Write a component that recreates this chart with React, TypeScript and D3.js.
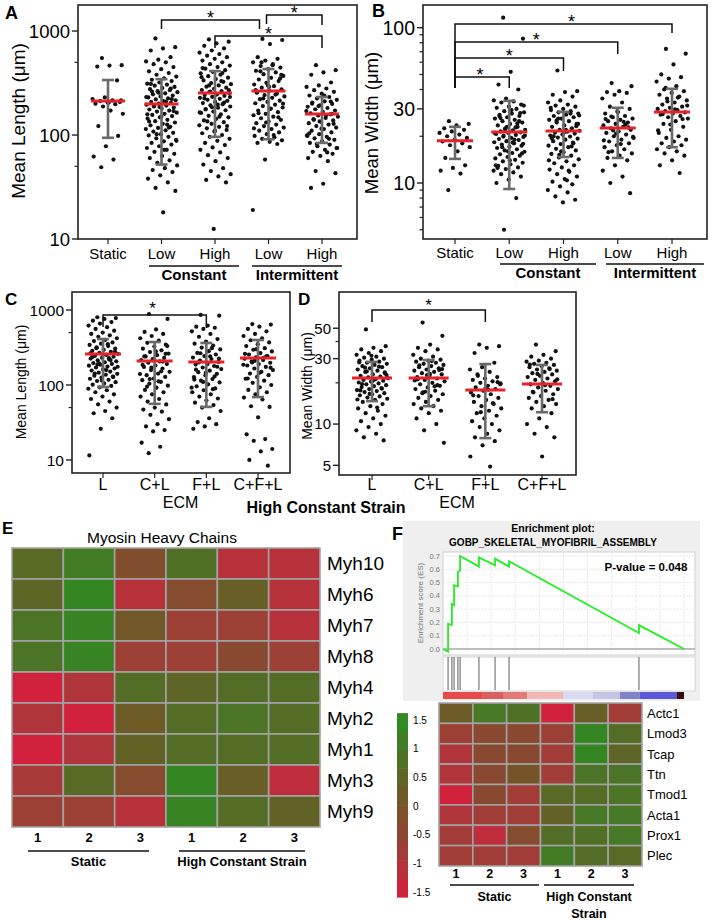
import React from 'react';
import * as d3 from 'd3';

const FONT = '"Liberation Sans", Arial, Helvetica, sans-serif';
const DOT = '#111';
const MEDIAN_RED = '#e8212b';
const BAR_GREY = '#6a6a6a';

// ---------- A / B : strain regimes ----------
const STRAIN_CATS = ['static', 'constLow', 'constHigh', 'intLow', 'intHigh'];
const STRAIN_TICKS = ['Static', 'Low', 'High', 'Low', 'High'];

const A_STATIC = [550, 470, 465, 455, 335, 230, 222, 215, 212, 208, 205, 200, 198, 188, 160, 172, 122, 98, 78, 62, 58, 49, 215, 205];
const A_CONST_LOW = [
  850, 700, 680, 650, 560, 530, 510, 500, 480, 450, 430, 410, 395, 380, 365, 350, 340, 330, 320, 312,
  305, 298, 290, 283, 276, 270, 264, 258, 252, 246, 240, 235, 230, 225, 220, 216, 212, 208, 204, 200,
  196, 192, 188, 184, 180, 176, 172, 168, 164, 160, 156, 152, 148, 144, 140, 136, 132, 128, 124, 120,
  117, 114, 111, 108, 105, 102, 99, 96, 93, 90, 87, 84, 81, 78, 75, 72, 69, 66, 63, 60,
  57, 54, 51, 48, 46, 44, 41, 38, 35, 31, 29, 18, 310, 280, 255, 232, 210, 190, 170, 150,
  135, 118, 102, 88, 72, 262, 222, 186, 158, 126,
];
const A_CONST_HIGH = [
  830, 790, 760, 720, 680, 650, 620, 600, 580, 560, 540, 520, 500, 480, 465, 450, 435, 420, 405, 392,
  380, 368, 356, 345, 335, 325, 316, 308, 300, 292, 285, 278, 271, 265, 259, 253, 248, 243, 238, 233,
  228, 223, 218, 213, 208, 203, 198, 193, 188, 183, 178, 173, 168, 163, 158, 153, 148, 143, 138, 133,
  128, 124, 120, 116, 112, 108, 104, 100, 96, 92, 88, 84, 80, 76, 72, 68, 64, 60, 56, 52,
  48, 45, 42, 40, 37, 35, 12.5, 360, 330, 300, 270, 245, 225, 205, 185, 165, 150, 135, 122, 110,
  440, 395, 262, 232, 196, 176,
];
const A_INT_LOW = [
  840, 820, 750, 560, 540, 520, 500, 480, 460, 445, 430, 415, 400, 385, 370, 355, 342, 330, 318, 306,
  295, 285, 275, 266, 258, 250, 242, 235, 228, 221, 214, 208, 202, 196, 190, 184, 178, 172, 166, 160,
  155, 150, 145, 140, 135, 130, 126, 122, 118, 114, 110, 106, 102, 98, 95, 92, 89, 86, 84, 82,
  58, 19, 470, 410, 350, 300, 270, 245, 225, 200, 180, 162, 148, 132, 116, 100, 500, 380, 290, 255,
];
const A_INT_HIGH = [
  470, 420, 400, 380, 320, 300, 290, 280, 270, 260, 250, 240, 232, 225, 218, 211, 205, 199, 193, 187,
  182, 177, 172, 167, 162, 158, 154, 150, 146, 142, 138, 134, 130, 126, 122, 118, 114, 110, 106, 102,
  99, 96, 93, 90, 87, 84, 81, 78, 75, 72, 69, 66, 63, 60, 56, 45, 43, 34, 31, 210,
  190, 170, 155, 140, 128, 115, 104, 92, 82, 75, 240, 200, 160, 135, 98, 68,
];
const A_MEDIAN = [212, 199, 253, 265, 159];
const A_LOW = [94, 52, 96, 91, 84];
const A_HIGH = [338, 345, 412, 431, 232];

const B_STATIC = [25, 24, 23.5, 22.5, 22, 21.5, 21, 20.5, 20, 19.5, 19, 18.5, 18, 17.5, 17, 16, 14.5, 13, 12.5, 12, 11.5, 9];
const B_CONST_LOW = [
  116, 85, 52, 43, 40, 35, 34, 33.5, 33, 32, 31, 30.5, 30, 29, 28.5, 28, 27.5, 27, 26.5, 26,
  25.5, 25, 24.5, 24, 23.5, 23, 22.5, 22, 21.8, 21.5, 21.2, 21, 20.7, 20.4, 20.1, 19.8, 19.5, 19.2, 18.9, 18.6,
  18.3, 18, 17.7, 17.4, 17.1, 16.8, 16.5, 16.2, 15.9, 15.6, 15.3, 15, 14.7, 14.4, 14.1, 13.8, 13.5, 13.2, 12.9, 12.6,
  12.3, 12, 11.7, 11.4, 11, 10.5, 10, 8, 5, 31.5, 29.5, 27, 25, 23, 21, 19, 17, 15.5, 14, 12.5,
  24.2, 22.2, 20.2, 18.2, 26.2, 28.2, 16, 13, 22.8, 19.9, 17.9,
];
const B_CONST_HIGH = [
  53, 39, 38.5, 37, 36, 34, 33, 32, 31.5, 31, 30, 29.5, 29, 28.5, 28, 27.5, 27, 26.5, 26, 25.5,
  25, 24.5, 24, 23.5, 23, 22.5, 22, 21.7, 21.4, 21.1, 20.8, 20.5, 20.2, 19.9, 19.6, 19.3, 19, 18.6, 18.2, 17.8,
  17.4, 17, 16.6, 16.2, 15.8, 15.4, 15, 14.6, 14.2, 13.8, 13.4, 13, 12.6, 12.2, 11.8, 11.4, 11, 10.6, 10.2, 9.8,
  9.5, 9, 8.7, 8.2, 7.8, 7.5, 30.5, 28, 26, 24, 22, 20, 18, 16, 14, 12, 25.2, 23.2, 21.2, 19.4,
  17.2, 15.2, 27.2, 10.4,
];
const B_INT_LOW = [
  44, 42, 39, 38.5, 38, 37, 35, 33, 31, 30, 29, 28, 27, 26.5, 26, 25.5, 25, 24.5, 24, 23.5,
  23, 22.5, 22, 21.5, 21, 20.5, 20, 19.5, 19, 18.5, 18, 17.5, 17, 16.5, 16, 15.5, 15, 14.5, 14, 13,
  12, 11, 10, 8.6, 28.5, 25.8, 23.8, 21.8, 19.8, 17.8, 15.8, 22.8, 20.8, 18.8, 24.8, 26.8,
];
const B_INT_HIGH = [
  73, 68, 58, 50, 48, 47, 45, 42, 40, 39, 38, 37, 36, 35, 34, 33, 32, 31, 30.5, 30,
  29.5, 29, 28.5, 28, 27.5, 27, 26.5, 26, 25, 24, 23, 22, 21, 20, 19.5, 19, 18.5, 18, 17.5, 17,
  16.5, 16, 15.5, 15, 14, 13, 11.6, 33.5, 31.5, 29.8, 27.8, 25.8, 23.8, 21.8, 35.5, 41,
];
const B_MEDIAN = [18.7, 21.3, 21.6, 22.6, 28.7];
const B_LOW = [14.3, 9.15, 14.7, 14.5, 17];
const B_HIGH = [23, 33.8, 28.7, 30.5, 40.4];

// ---------- C / D : ECM under high constant strain ----------
const ECM_CATS = ['L', 'C+L', 'F+L', 'C+F+L'];

const C_L = [
  800, 780, 760, 720, 690, 660, 620, 590, 560, 530, 500, 480, 460, 440, 420, 400, 385, 370, 355, 342,
  330, 318, 306, 295, 285, 276, 268, 260, 252, 245, 238, 231, 225, 219, 213, 207, 201, 196, 191, 186,
  181, 176, 171, 166, 161, 156, 151, 146, 141, 137, 133, 129, 125, 121, 117, 113, 109, 105, 101, 97,
  93, 89, 85, 80, 75, 70, 65, 60, 55, 50, 45, 42, 36, 26, 11.5, 350, 310, 280, 255, 235,
  215, 195, 175, 158, 142, 128, 115, 265, 228, 188,
];
const C_CL = [
  880, 760, 550, 510, 480, 450, 420, 390, 365, 345, 325, 305, 290, 275, 262, 250, 240, 230, 222, 214,
  206, 198, 190, 182, 174, 166, 158, 150, 142, 135, 128, 122, 116, 110, 104, 98, 92, 86, 80, 75,
  70, 65, 60, 55, 50, 47, 44, 40, 35, 30, 28, 25, 24, 17, 15, 12.3, 330, 280, 240, 205,
  170, 140, 112, 95, 260, 218, 185, 152, 120,
];
const C_FL = [
  860, 840, 620, 600, 580, 560, 520, 480, 440, 410, 380, 355, 335, 315, 298, 282, 268, 255, 243, 232,
  222, 212, 203, 195, 187, 179, 171, 163, 155, 148, 141, 134, 127, 120, 114, 108, 102, 96, 90, 85,
  80, 75, 70, 66, 62, 58, 54, 50, 45, 36, 32, 30, 28, 26, 310, 265, 225, 190, 160, 130,
  110, 92, 240, 200, 175, 145, 118, 88,
];
const C_CFL = [
  650, 640, 600, 560, 520, 480, 450, 420, 395, 370, 350, 330, 310, 295, 280, 266, 254, 243, 233, 224,
  215, 206, 198, 190, 182, 174, 166, 158, 150, 142, 135, 128, 121, 114, 107, 100, 93, 86, 80, 75,
  68, 64, 52, 51, 37, 22, 19, 18, 14, 13, 10, 8.4, 300, 260, 230, 200, 170, 145, 122, 240,
  210, 186,
];
const C_MEDIAN = [259, 209, 203, 229];
const C_LOW = [94, 56, 51, 69];
const C_HIGH = [410, 374, 363, 398];

const D_L = [
  49, 37, 36, 35, 34, 33, 32, 31, 30.5, 30, 29.5, 29, 28.5, 28, 27.5, 27, 26.5, 26, 25.5, 25,
  24.5, 24, 23.5, 23, 22.5, 22.2, 21.9, 21.6, 21.3, 21, 20.7, 20.4, 20.1, 19.8, 19.5, 19.2, 18.9, 18.6, 18.3, 18,
  17.7, 17.4, 17.1, 16.8, 16.5, 16.2, 15.9, 15.6, 15.3, 15, 14.5, 14, 13.5, 13, 12.5, 12, 11.5, 11, 10.5, 10,
  9.5, 9, 8.5, 8, 7.6, 31.5, 28.2, 26.2, 24.2, 22.8, 21.1, 19.6, 18.1, 16.6, 15.1, 13.2, 25.8, 23.8, 20.6, 17.6,
];
const D_CL = [
  55, 44, 38, 36, 35, 34, 32, 31, 30, 29.5, 29, 28.5, 28, 27.5, 27, 26.5, 26, 25.5, 25, 24.5,
  24, 23.5, 23, 22.5, 22, 21.5, 21, 20.5, 20, 19.5, 19, 18.5, 18, 17.5, 17, 16.5, 16, 15.5, 15, 14.5,
  14, 13.5, 13, 12.5, 12, 11, 10, 9, 7.3, 28.8, 26.8, 24.8, 22.8, 20.8, 18.8, 16.8, 25.2, 23.2, 21.2, 19.2,
  17.2,
];
const D_FL = [
  38, 37, 36, 33, 28, 26, 25, 24, 23, 22, 21.5, 21, 20.5, 20, 19.5, 19, 18.5, 18, 17.5, 17,
  16.5, 16, 15.5, 15, 14.5, 14, 13.5, 13, 12.5, 12, 11.5, 11, 10.5, 10, 9.5, 9, 8.5, 8, 7.5, 7,
  5.8, 4.9, 22.5, 20.2, 18.2, 16.2, 14.2, 12.2, 19.8, 17.8,
];
const D_CFL = [
  38, 34, 32, 31, 30, 29, 28.5, 28, 27.5, 27, 26.5, 26, 25.5, 25, 24.5, 24, 23.5, 23, 22.5, 22,
  21.5, 21, 20.5, 20, 19.5, 19, 18.5, 18, 17.5, 17, 16.5, 16, 15.5, 15, 14.5, 14, 13.5, 13, 12, 11,
  10, 9.5, 8.5, 8, 5.8, 27.2, 25.2, 23.2, 21.2, 19.2, 17.2, 15.2,
];
const D_MEDIAN = [21.7, 21.7, 17.7, 19.6];
const D_LOW = [14.7, 13.5, 7.9, 12.2];
const D_HIGH = [28.4, 29.3, 27.4, 27];

// ---------- E / F : heatmaps ----------
const SAMPLES = ['s1', 's2', 's3', 'h1', 'h2', 'h3'];
const SAMPLE_LABELS = ['1', '2', '3', '1', '2', '3'];

const E_GENES = ['Myh10', 'Myh6', 'Myh7', 'Myh8', 'Myh4', 'Myh2', 'Myh1', 'Myh3', 'Myh9'];
const E_VALUES = [
  [0.6, 1.1, -0.2, 0.8, -1.1, -1.1],
  [0.5, 1.4, -1.1, -0.3, 0.3, -1.1],
  [0.9, 1.3, 0.1, -0.7, -0.7, -1.1],
  [0.9, 1.3, -0.7, -0.7, -0.4, -0.7],
  [-1.5, -1.0, 0.7, 0.5, 0.7, 0.7],
  [-1.0, -1.5, 0.2, 0.7, 0.9, 0.7],
  [-1.5, -1.0, 0.4, 0.7, 0.7, 0.7],
  [-0.9, 0.6, -0.3, 1.4, 0.3, -1.2],
  [-0.7, -0.7, -1.1, 1.3, 0.7, 0.4],
];

const F_GENES = ['Actc1', 'Lmod3', 'Tcap', 'Ttn', 'Tmod1', 'Acta1', 'Prox1', 'Plec'];
const F_VALUES = [
  [0.2, 1.0, 0.8, -1.5, 0.3, -0.8],
  [-0.7, -0.4, -0.4, -0.7, 1.4, 0.7],
  [-1.0, -0.4, -0.4, -0.8, 1.4, 0.5],
  [-1.0, -0.4, 0.0, -0.8, 0.9, 0.9],
  [-1.5, -0.4, -0.8, 0.6, 0.7, 0.9],
  [-1.0, -0.8, -0.8, 0.4, 1.0, 1.0],
  [-0.8, -1.2, -0.3, 0.7, 0.8, 1.0],
  [-0.8, -0.8, -0.8, 1.1, 0.7, 0.6],
];
const COLORBAR_TICKS = [1.5, 1, 0.5, 0, -0.5, -1, -1.5];

// enrichment plot: running score vertices and hit ranks (out of 1000)
const ES_RANK = [0, 21, 21, 37, 37, 46, 46, 62, 62, 71, 71, 149, 149, 216, 216, 274, 274, 813, 813, 1000];
const ES_VAL = [0, -0.02, 0.19, 0.18, 0.34, 0.33, 0.48, 0.47, 0.58, 0.59, 0.7, 0.62, 0.69, 0.63, 0.68, 0.62, 0.66, 0.12, 0.18, 0];
const HIT_RANKS = [21, 37, 46, 62, 71, 149, 216, 274, 813];
const ES_TICKS = [0, 0.1, 0.2, 0.3, 0.4, 0.5, 0.6, 0.7];
const RANK_SEG_END = [162, 249, 349, 498, 622, 734, 817, 971, 1000];
const RANK_SEG_COLOR = ['#e84a4a', '#d86060', '#e27a78', '#f2b8b4', '#dadaf2', '#c4c4e4', '#8282c8', '#5a5ad8', '#3a0a0a'];

const heatColor = d3
  .scaleLinear<string>()
  .domain([-1.5, -1, -0.5, 0, 0.5, 1, 1.5])
  .range(['#d2213d', '#b0353a', '#8e4632', '#775428', '#5e6526', '#467826', '#2f8a22'])
  .clamp(true);

const jitter = (i: number) => ((i * 0.6180339887 + 0.31) % 1) - 0.5;

type Cfg = {
  x0: number; x1: number; y0: number; y1: number;
  domain: [number, number];
  cats: string[];
  catRange: [number, number];
  groups: number[][];
  med: number[]; lo: number[]; hi: number[];
  major: number[]; minor: number[];
  spread: number; half: number; tickFont: number;
};

const scalesFor = (c: Cfg) => ({
  x: d3.scalePoint<string>().domain(c.cats).range(c.catRange),
  y: d3.scaleLog().domain(c.domain).range([c.y1, c.y0]),
});

function ScatterPanel({ c }: { c: Cfg }) {
  const { x, y } = scalesFor(c);
  return (
    <g>
      {c.groups.map((vals, gi) =>
        vals.map((v, i) => (
          <circle key={`p${gi}-${i}`} cx={x(c.cats[gi])! + jitter(i) * c.spread * 2} cy={y(v)} r={2.1} fill={DOT} />
        ))
      )}
      {c.cats.map((k, gi) => {
        const cx = x(k)!;
        return (
          <g key={`e${k}`} stroke={BAR_GREY} strokeWidth={2.6}>
            <line x1={cx} x2={cx} y1={y(c.lo[gi])} y2={y(c.hi[gi])} />
            <line x1={cx - 6} x2={cx + 6} y1={y(c.lo[gi])} y2={y(c.lo[gi])} />
            <line x1={cx - 6} x2={cx + 6} y1={y(c.hi[gi])} y2={y(c.hi[gi])} />
          </g>
        );
      })}
      {c.cats.map((k, gi) => (
        <line key={`m${k}`} x1={x(k)! - c.half} x2={x(k)! + c.half} y1={y(c.med[gi])} y2={y(c.med[gi])} stroke={MEDIAN_RED} strokeWidth={3} />
      ))}
      <rect x={c.x0} y={c.y0} width={c.x1 - c.x0} height={c.y1 - c.y0} fill="none" stroke="#222" strokeWidth={1.6} />
      {c.major.map((t) => (
        <g key={`t${t}`}>
          <line x1={c.x0 - 6} x2={c.x0} y1={y(t)} y2={y(t)} stroke="#222" strokeWidth={1.4} />
          <text x={c.x0 - 8} y={y(t)} dy="0.36em" textAnchor="end" fontSize={c.tickFont}>{String(t)}</text>
        </g>
      ))}
      {c.minor.map((t) => (
        <line key={`n${t}`} x1={c.x0 - 3.5} x2={c.x0} y1={y(t)} y2={y(t)} stroke="#222" strokeWidth={1.2} />
      ))}
      {c.cats.map((k) => (
        <line key={`xt${k}`} x1={x(k)!} x2={x(k)!} y1={c.y1} y2={c.y1 + 5} stroke="#222" strokeWidth={1.2} />
      ))}
    </g>
  );
}

type Bracket = { a: string; b: string; y: number; dl: number; dr: number; oa?: number; ob?: number; sx?: number; sy?: number };

function Brackets({ c, list, size }: { c: Cfg; list: Bracket[]; size: number }) {
  const { x } = scalesFor(c);
  return (
    <g>
      {list.map((br, i) => {
        const xa = x(br.a)! + (br.oa ?? 0);
        const xb = x(br.b)! + (br.ob ?? 0);
        return (
          <g key={i}>
            <path d={`M${xa},${br.dl}V${br.y}H${xb}V${br.dr}`} fill="none" stroke="#111" strokeWidth={1.5} />
            <text x={(xa + xb) / 2 + (br.sx ?? 0)} y={br.y + (br.sy ?? 3.5)} textAnchor="middle" fontSize={size}>*</text>
          </g>
        );
      })}
    </g>
  );
}

const A_CFG: Cfg = {
  x0: 78, x1: 357, y0: 5, y1: 239, domain: [10, 1780], cats: STRAIN_CATS, catRange: [108, 322],
  groups: [A_STATIC, A_CONST_LOW, A_CONST_HIGH, A_INT_LOW, A_INT_HIGH],
  med: A_MEDIAN, lo: A_LOW, hi: A_HIGH, major: [10, 100, 1000], minor: [50, 500],
  spread: 16, half: 17, tickFont: 18.5,
};
const B_CFG: Cfg = {
  x0: 423, x1: 707, y0: 5, y1: 239, domain: [4.36, 140], cats: STRAIN_CATS, catRange: [455, 672],
  groups: [B_STATIC, B_CONST_LOW, B_CONST_HIGH, B_INT_LOW, B_INT_HIGH],
  med: B_MEDIAN, lo: B_LOW, hi: B_HIGH, major: [10, 30, 100], minor: [5, 6, 7, 8, 9, 20, 40, 50, 60, 70, 80, 90],
  spread: 16, half: 18, tickFont: 19.5,
};
const C_CFG: Cfg = {
  x0: 72, x1: 290, y0: 292, y1: 473, domain: [6.7, 1738], cats: ECM_CATS, catRange: [103, 258],
  groups: [C_L, C_CL, C_FL, C_CFL], med: C_MEDIAN, lo: C_LOW, hi: C_HIGH,
  major: [10, 100, 1000], minor: [50, 500], spread: 15, half: 18, tickFont: 15.5,
};
const D_CFG: Cfg = {
  x0: 339, x1: 576, y0: 292, y1: 475, domain: [4.25, 91.9], cats: ECM_CATS, catRange: [372, 542],
  groups: [D_L, D_CL, D_FL, D_CFL], med: D_MEDIAN, lo: D_LOW, hi: D_HIGH,
  major: [5, 10, 30, 50], minor: [20, 40], spread: 16, half: 20, tickFont: 15,
};

function StrainAxisLabels({ c, tickY, lineY, groupY, groups }: { c: Cfg; tickY: number; lineY: number; groupY: number; groups: { label: string; x0: number; x1: number }[] }) {
  const { x } = scalesFor(c);
  return (
    <g>
      {c.cats.map((k, i) => (
        <text key={k} x={x(k)!} y={tickY} textAnchor="middle" fontSize={15}>{STRAIN_TICKS[i]}</text>
      ))}
      {groups.map((g) => (
        <g key={g.label}>
          <line x1={g.x0} x2={g.x1} y1={lineY} y2={lineY} stroke="#111" strokeWidth={1.4} />
          <text x={(g.x0 + g.x1) / 2} y={groupY} textAnchor="middle" fontSize={15} fontWeight="bold">{g.label}</text>
        </g>
      ))}
    </g>
  );
}

function EcmAxisLabels({ c }: { c: Cfg }) {
  const { x } = scalesFor(c);
  const mid = (c.catRange[0] + c.catRange[1]) / 2;
  return (
    <g>
      {c.cats.map((k) => (
        <text key={k} x={x(k)!} y={490} textAnchor="middle" fontSize={16}>{k}</text>
      ))}
      <text x={mid} y={508} textAnchor="middle" fontSize={16}>ECM</text>
    </g>
  );
}

function Heatmap({ genes, values, x0, x1, y0, y1, labelX, labelSize }: { genes: string[]; values: number[][]; x0: number; x1: number; y0: number; y1: number; labelX: number; labelSize: number }) {
  const bx = d3.scaleBand<string>().domain(SAMPLES).range([x0, x1]);
  const by = d3.scaleBand<string>().domain(genes).range([y0, y1]);
  return (
    <g>
      {genes.map((g, r) =>
        SAMPLES.map((s, ci) => (
          <rect key={`${g}${s}`} x={bx(s)} y={by(g)} width={bx.bandwidth()} height={by.bandwidth()} fill={heatColor(values[r][ci])} stroke="#a3a3a3" strokeWidth={1.6} />
        ))
      )}
      {genes.map((g) => (
        <text key={g} x={labelX} y={by(g)! + by.bandwidth() / 2} dy="0.36em" fontSize={labelSize}>{g}</text>
      ))}
    </g>
  );
}

function SampleLabels({ x0, x1, numY, lineY, groupY, lines, size, hcsTwoLine }: { x0: number; x1: number; numY: number; lineY: number; groupY: number; lines: [number, number][]; size: number; hcsTwoLine?: boolean }) {
  const bx = d3.scaleBand<string>().domain(SAMPLES).range([x0, x1]);
  return (
    <g fontWeight="bold" fontSize={size} textAnchor="middle">
      {SAMPLES.map((s, i) => (
        <text key={s} x={bx(s)! + bx.bandwidth() / 2} y={numY}>{SAMPLE_LABELS[i]}</text>
      ))}
      {lines.map(([a, b], i) => (
        <line key={i} x1={a} x2={b} y1={lineY} y2={lineY} stroke="#111" strokeWidth={1.4} />
      ))}
      <text x={(lines[0][0] + lines[0][1]) / 2} y={groupY}>Static</text>
      {hcsTwoLine ? (
        <>
          <text x={(lines[1][0] + lines[1][1]) / 2} y={groupY}>High Constant</text>
          <text x={(lines[1][0] + lines[1][1]) / 2} y={groupY + 17}>Strain</text>
        </>
      ) : (
        <text x={(lines[1][0] + lines[1][1]) / 2} y={groupY}>High Constant Strain</text>
      )}
    </g>
  );
}

function Enrichment() {
  const esX = d3.scaleLinear().domain([0, 1000]).range([443, 684]);
  const esY = d3.scaleLinear().domain([0, 0.7]).range([649, 556]);
  const line = d3.line<number>().x((_, i) => esX(ES_RANK[i])).y((d) => esY(d));
  const gridX = esX.ticks(10);
  return (
    <g>
      <rect x={403} y={521} width={297} height={180} fill="#efefef" />
      <text x={553} y={532} textAnchor="middle" fontSize={10.5} fontWeight="bold">Enrichment plot:</text>
      <text x={553} y={546} textAnchor="middle" fontSize={10} fontWeight="bold">GOBP_SKELETAL_MYOFIBRIL_ASSEMBLY</text>
      <rect x={443} y={552} width={252} height={103} fill="#fff" stroke="#cfcfcf" />
      {gridX.map((t) => (
        <line key={`gx${t}`} x1={esX(t)} x2={esX(t)} y1={552} y2={655} stroke="#e2e2e2" strokeDasharray="1.5 1.5" />
      ))}
      {ES_TICKS.map((t) => (
        <g key={`es${t}`}>
          <line x1={443} x2={695} y1={esY(t)} y2={esY(t)} stroke={t === 0 ? '#a8a8a8' : '#e2e2e2'} strokeWidth={t === 0 ? 1.4 : 1} strokeDasharray={t === 0 ? undefined : '1.5 1.5'} />
          <text x={440} y={esY(t)} dy="0.35em" textAnchor="end" fontSize={7.5} fill="#777">{t.toFixed(1)}</text>
        </g>
      ))}
      <text transform="translate(423,603) rotate(-90)" textAnchor="middle" fontSize={8} fill="#777">Enrichment score (ES)</text>
      <path d={line(ES_VAL) ?? ''} fill="none" stroke="#22ee22" strokeWidth={1.8} />
      <text x={646} y={571} textAnchor="middle" fontSize={11.5} fontWeight="bold">P-value = 0.048</text>
      <rect x={443} y={657} width={252} height={34} fill="#fff" stroke="#d6d6d6" />
      {HIT_RANKS.map((r) => (
        <line key={`h${r}`} x1={esX(r)} x2={esX(r)} y1={657} y2={690} stroke="#777" strokeWidth={1.2} />
      ))}
      {RANK_SEG_END.map((end, i) => {
        const start = i === 0 ? 0 : RANK_SEG_END[i - 1];
        return <rect key={`rk${i}`} x={esX(start)} y={692} width={esX(end) - esX(start)} height={7} fill={RANK_SEG_COLOR[i]} />;
      })}
    </g>
  );
}

function ColorBar() {
  const cy = d3.scaleLinear().domain([1.5, -1.5]).range([720, 892]);
  const bands = d3.range(10).map((i) => 1.62 - (i + 0.5) * 0.321);
  const top = cy(1.62);
  const h = (cy(-1.59) - top) / 10;
  return (
    <g>
      {bands.map((v, i) => (
        <rect key={i} x={397} y={top + i * h} width={11} height={h + 0.5} fill={heatColor(v)} />
      ))}
      {COLORBAR_TICKS.map((t) => (
        <text key={t} x={413} y={cy(t)} dy="0.35em" fontSize={10}>{String(t)}</text>
      ))}
    </g>
  );
}

export default function App() {
  return (
    <svg width={712} height={920} viewBox="0 0 712 920" style={{ position: 'absolute', left: 0, top: 0, background: '#fff' }} fontFamily={FONT}>
      {/* A */}
      <text x={5} y={19} fontSize={18} fontWeight="bold">A</text>
      <ScatterPanel c={A_CFG} />
      <Brackets
        c={A_CFG}
        size={18}
        list={[
          { a: 'constLow', b: 'intLow', y: 20, dl: 29, dr: 29, ob: -9 },
          { a: 'intLow', b: 'intHigh', y: 15, dl: 24, dr: 25, oa: -2 },
          { a: 'constHigh', b: 'intHigh', y: 36, dl: 48, dr: 48 },
        ]}
      />
      <text transform="translate(25,121) rotate(-90)" textAnchor="middle" fontSize={19}>Mean Length (μm)</text>
      <StrainAxisLabels c={A_CFG} tickY={259} lineY={266} groupY={280} groups={[{ label: 'Constant', x0: 149, x1: 239 }, { label: 'Intermittent', x0: 252, x1: 342 }]} />

      {/* B */}
      <text x={372} y={17} fontSize={18} fontWeight="bold">B</text>
      <ScatterPanel c={B_CFG} />
      <Brackets
        c={B_CFG}
        size={18}
        list={[
          { a: 'static', b: 'intHigh', y: 24, dl: 88, dr: 33, sx: 8 },
          { a: 'static', b: 'intLow', y: 42, dl: 88, dr: 54 },
          { a: 'static', b: 'constHigh', y: 58, dl: 88, dr: 71 },
          { a: 'static', b: 'constLow', y: 77, dl: 88, dr: 88, sx: -2 },
        ]}
      />
      <text transform="translate(378,123) rotate(-90)" textAnchor="middle" fontSize={18.5}>Mean Width (μm)</text>
      <StrainAxisLabels c={B_CFG} tickY={258} lineY={264} groupY={278} groups={[{ label: 'Constant', x0: 500, x1: 596 }, { label: 'Intermittent', x0: 606, x1: 704 }]} />

      {/* C */}
      <text x={5} y={305} fontSize={17} fontWeight="bold">C</text>
      <ScatterPanel c={C_CFG} />
      <Brackets c={C_CFG} size={17} list={[{ a: 'L', b: 'F+L', y: 315, dl: 327, dr: 328, sx: -2, sy: -1.5 }]} />
      <text transform="translate(26,382) rotate(-90)" textAnchor="middle" fontSize={14}>Mean Length (μm)</text>
      <EcmAxisLabels c={C_CFG} />

      {/* D */}
      <text x={298} y={305} fontSize={17} fontWeight="bold">D</text>
      <ScatterPanel c={D_CFG} />
      <Brackets c={D_CFG} size={17} list={[{ a: 'L', b: 'F+L', y: 310, dl: 322, dr: 322, sy: 1 }]} />
      <text transform="translate(312,386) rotate(-90)" textAnchor="middle" fontSize={14}>Mean Width (μm)</text>
      <EcmAxisLabels c={D_CFG} />
      <text x={326} y={513} textAnchor="middle" fontSize={16} fontWeight="bold">High Constant Strain</text>

      {/* E */}
      <text x={2} y={534} fontSize={17} fontWeight="bold">E</text>
      <text x={162} y={543} textAnchor="middle" fontSize={15.5}>Myosin Heavy Chains</text>
      <Heatmap genes={E_GENES} values={E_VALUES} x0={12} x1={320} y0={548} y1={827} labelX={327} labelSize={19} />
      <SampleLabels x0={12} x1={320} numY={842} lineY={851} groupY={866} lines={[[28, 149], [179, 305]]} size={13} />

      {/* F */}
      <text x={392} y={540} fontSize={18} fontWeight="bold">F</text>
      <Enrichment />
      <ColorBar />
      <Heatmap genes={F_GENES} values={F_VALUES} x0={439} x1={642} y0={703} y1={866} labelX={647} labelSize={13} />
      <SampleLabels x0={439} x1={642} numY={878} lineY={885} groupY={901} lines={[[450, 539], [544, 634]]} size={12.5} hcsTwoLine />
    </svg>
  );
}
